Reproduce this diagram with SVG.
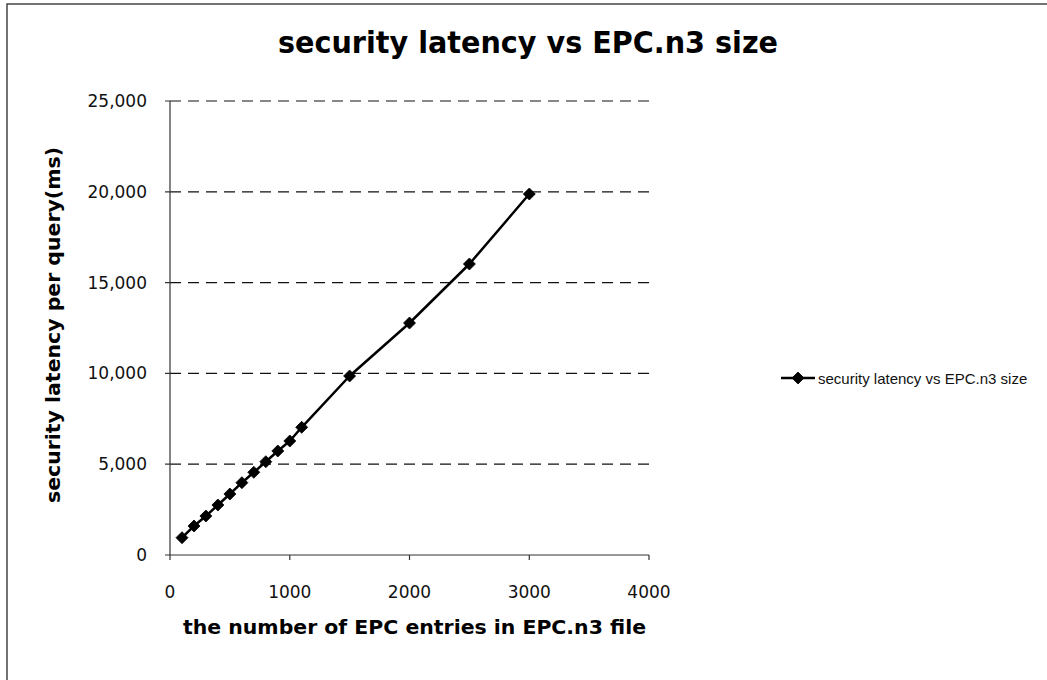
<svg xmlns="http://www.w3.org/2000/svg" width="1047" height="680" viewBox="0 0 1047 680">
  <style>
    .frame { fill: none; stroke: #444; stroke-width: 1.5; }
    .axis { stroke: #333; stroke-width: 1.2; fill: none; }
    .grid { stroke: #111; stroke-width: 1.2; stroke-dasharray: 11 7; fill: none; }
    .tick { font-family: "DejaVu Sans", "Liberation Sans", sans-serif; font-size: 17px; fill: #111; }
    .title { font-family: "DejaVu Sans", "Liberation Sans", sans-serif; font-weight: bold; fill: #000; }
    .legend { font-family: "Liberation Sans", "DejaVu Sans", sans-serif; font-size: 15px; fill: #111; }
    .series { stroke: #000; stroke-width: 2.5; fill: none; stroke-linejoin: round; }
  </style>
  <defs>
    <path id="diamond" d="M0,-6 L6,0 L0,6 L-6,0 Z" fill="#000" stroke="#000" stroke-width="0.8" stroke-linejoin="round"/>
  </defs>

  <rect x="0" y="0" width="1047" height="680" fill="#fff"/>

  <!-- chart frame (top and left edges) -->
  <path class="frame" d="M7,680 L7,4 L1047,4"/>

  <!-- chart title -->
  <g id="chart-title">
    <text class="title" x="278" y="53" font-size="30" textLength="500" lengthAdjust="spacingAndGlyphs">security latency vs EPC.n3 size</text>
  </g>

  <!-- horizontal gridlines -->
  <g id="gridlines">
    <line class="grid" x1="170" y1="101" x2="649" y2="101"/>
    <line class="grid" x1="170" y1="191.8" x2="649" y2="191.8"/>
    <line class="grid" x1="170" y1="282.6" x2="649" y2="282.6"/>
    <line class="grid" x1="170" y1="373.4" x2="649" y2="373.4"/>
    <line class="grid" x1="170" y1="464.2" x2="649" y2="464.2"/>
  </g>

  <!-- axes with tick marks -->
  <g id="axes">
    <line class="axis" x1="170" y1="101" x2="170" y2="555"/>
    <line class="axis" x1="170" y1="555" x2="649" y2="555"/>
    <path class="axis" d="M165,101 H170 M165,191.8 H170 M165,282.6 H170 M165,373.4 H170 M165,464.2 H170 M165,555 H170"/>
    <path class="axis" d="M170,555 V560 M289.8,555 V560 M409.5,555 V560 M529.3,555 V560 M649,555 V560"/>
  </g>

  <!-- y tick labels -->
  <g id="y-labels" class="tick" text-anchor="end">
    <text x="147" y="107">25,000</text>
    <text x="147" y="198">20,000</text>
    <text x="147" y="288.6">15,000</text>
    <text x="147" y="379.4">10,000</text>
    <text x="147" y="470.2">5,000</text>
    <text x="147" y="561">0</text>
  </g>

  <!-- x tick labels -->
  <g id="x-labels" class="tick" text-anchor="middle">
    <text x="170" y="598">0</text>
    <text x="289.8" y="598">1000</text>
    <text x="409.5" y="598">2000</text>
    <text x="529.3" y="598">3000</text>
    <text x="649" y="598">4000</text>
  </g>

  <!-- axis titles -->
  <g id="x-axis-title">
    <text class="title" x="183" y="634" font-size="20" textLength="463" lengthAdjust="spacingAndGlyphs">the number of EPC entries in EPC.n3 file</text>
  </g>
  <g id="y-axis-title">
    <text class="title" transform="translate(60,325) rotate(-90)" x="-178" y="0" font-size="20" textLength="356" lengthAdjust="spacingAndGlyphs">security latency per query(ms)</text>
  </g>

  <!-- data series -->
  <g id="series">
    <polyline class="series" points="182,537.7 194,526 205.9,516 217.9,505 229.9,494 241.9,482.7 253.8,472.3 265.8,461.7 277.8,451 289.8,441 301.7,427.3 349.6,376 409.5,323 469.4,264 529.3,194"/>
    <use href="#diamond" x="182" y="537.7"/>
    <use href="#diamond" x="194" y="526"/>
    <use href="#diamond" x="205.9" y="516"/>
    <use href="#diamond" x="217.9" y="505"/>
    <use href="#diamond" x="229.9" y="494"/>
    <use href="#diamond" x="241.9" y="482.7"/>
    <use href="#diamond" x="253.8" y="472.3"/>
    <use href="#diamond" x="265.8" y="461.7"/>
    <use href="#diamond" x="277.8" y="451"/>
    <use href="#diamond" x="289.8" y="441"/>
    <use href="#diamond" x="301.7" y="427.3"/>
    <use href="#diamond" x="349.6" y="376"/>
    <use href="#diamond" x="409.5" y="323"/>
    <use href="#diamond" x="469.4" y="264"/>
    <use href="#diamond" x="529.3" y="194"/>
  </g>

  <!-- legend -->
  <g id="legend">
    <line class="series" x1="781" y1="378" x2="815" y2="378"/>
    <use href="#diamond" x="798" y="378"/>
    <text class="legend" x="818" y="384">security latency vs EPC.n3 size</text>
  </g>
</svg>
